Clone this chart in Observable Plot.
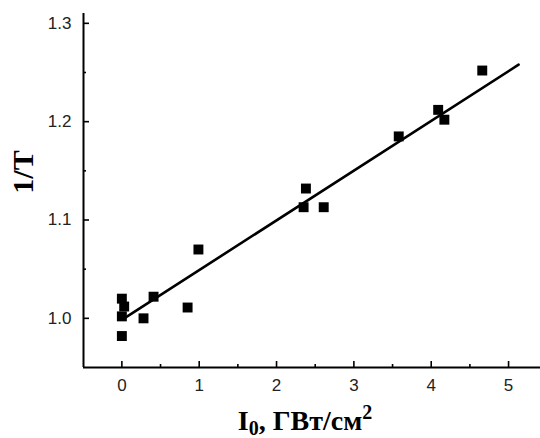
<!DOCTYPE html>
<html>
<head>
<meta charset="utf-8">
<script src="https://cdn.jsdelivr.net/npm/d3@7"></script>
<script src="https://cdn.jsdelivr.net/npm/@observablehq/plot@0.6"></script>
<style>
  html, body { margin: 0; padding: 0; background: #fff; }
  #chart svg { display: block; }
</style>
</head>
<body>
<div id="chart"></div>
<script>
// Measured points: intensity I0 (GW/cm^2) and 1/T
const intensity = [0, 0, 0, 0.03, 0.28, 0.41, 0.85, 0.99, 2.35, 2.38, 2.61, 3.58, 4.09, 4.17, 4.66];
const invT      = [0.982, 1.002, 1.020, 1.012, 1.0, 1.022, 1.011, 1.070, 1.113, 1.132, 1.113, 1.185, 1.212, 1.202, 1.252];

// Linear fit line end points
const fitX = [0.05, 5.13];
const fitY = [1.001, 1.258];

// Axis ticks
const xMajor = [0, 1, 2, 3, 4, 5];
const xMinor = [0.5, 1.5, 2.5, 3.5, 4.5];
const yMajor = [1.0, 1.1, 1.2, 1.3];
const yMinor = [1.05, 1.15, 1.25];

const xDomain = [-0.496, 5.413];
const yDomain = [0.950, 1.310];

const points = intensity.map((x, i) => ({x, y: invT[i]}));
const fit = fitX.map((x, i) => ({x, y: fitY[i]}));

const plot = Plot.plot({
  width: 540,
  height: 438,
  marginLeft: 83,
  marginRight: 0,
  marginTop: 13,
  marginBottom: 71,
  style: {fontFamily: "'Liberation Sans', Arial, sans-serif", fontSize: "17px", color: "#000", background: "#fff"},
  x: {domain: xDomain},
  y: {domain: yDomain},
  marks: [
    // axis lines
    Plot.ruleX([xDomain[0]], {stroke: "#000", strokeWidth: 2}),
    Plot.ruleY([yDomain[0]], {stroke: "#000", strokeWidth: 2}),
    // inward ticks
    Plot.axisX(xMajor, {anchor: "bottom", tickSize: -6, strokeWidth: 1.6, fill: "none", label: null}),
    Plot.axisX(xMinor, {anchor: "bottom", tickSize: -3, strokeWidth: 1.6, fill: "none", label: null}),
    Plot.axisY(yMajor, {anchor: "left", tickSize: -6, strokeWidth: 1.6, fill: "none", label: null}),
    Plot.axisY(yMinor, {anchor: "left", tickSize: -3, strokeWidth: 1.6, fill: "none", label: null}),
    // tick labels
    Plot.axisX(xMajor, {anchor: "bottom", tickSize: 0, tickPadding: 11, fill: "#222", fontSize: 17, label: null, tickFormat: d => String(d)}),
    Plot.axisY(yMajor, {anchor: "left", tickSize: 0, tickPadding: 12, fill: "#222", fontSize: 17, label: null, tickFormat: d => d.toFixed(1)}),
    // fit line
    Plot.line(fit, {x: "x", y: "y", stroke: "#000", strokeWidth: 2.6}),
    // data squares
    Plot.dot(points, {x: "x", y: "y", symbol: "square", r: 5.6, fill: "#000", stroke: "none"})
  ]
});

document.getElementById("chart").appendChild(plot);

// Axis titles (serif, bold) with sub/superscripts
const svg = d3.select(plot);
const xt = svg.append("text")
  .attr("x", 305)
  .attr("y", 430)
  .attr("text-anchor", "middle")
  .attr("font-family", "'Liberation Serif', 'Times New Roman', serif")
  .attr("font-weight", "bold")
  .attr("font-size", 28)
  .attr("fill", "#000");
xt.append("tspan").text("I");
xt.append("tspan").attr("font-size", 20).attr("dy", 5).text("0");
xt.append("tspan").attr("dy", -5).text(", ГВт/см");
xt.append("tspan").attr("font-size", 20).attr("dy", -11).text("2");

svg.append("text")
  .attr("transform", "translate(33,172) rotate(-90)")
  .attr("text-anchor", "middle")
  .attr("font-family", "'Liberation Serif', 'Times New Roman', serif")
  .attr("font-weight", "bold")
  .attr("font-size", 30)
  .attr("fill", "#000")
  .text("1/T");
</script>
</body>
</html>
